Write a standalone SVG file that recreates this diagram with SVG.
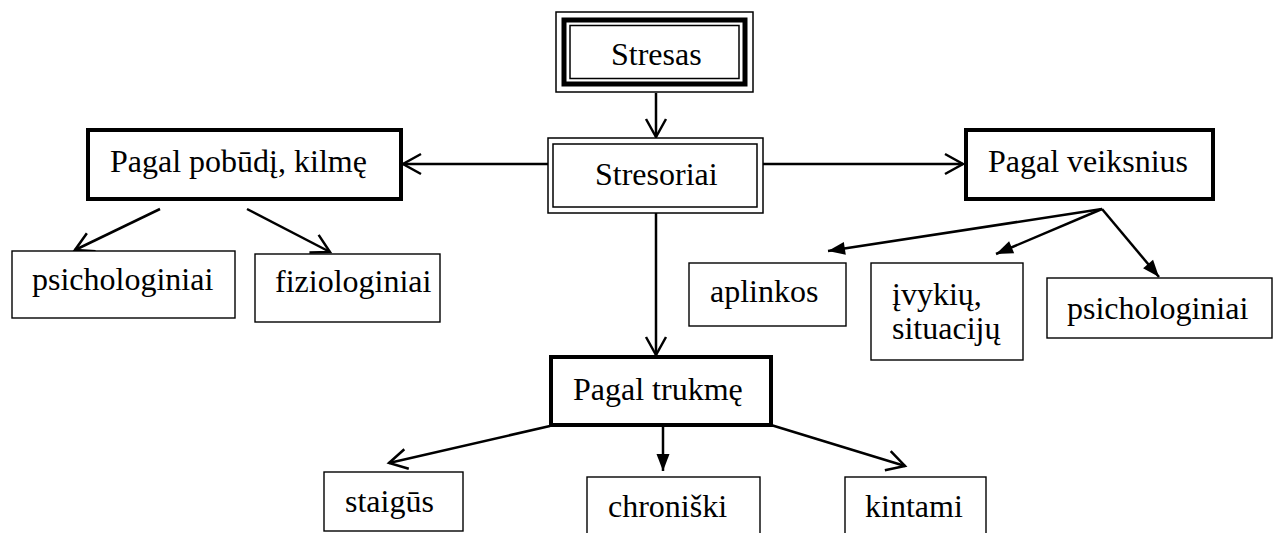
<svg xmlns="http://www.w3.org/2000/svg" width="1278" height="533" viewBox="0 0 1278 533">
<style>
text{font-family:'Liberation Serif',Tinos,'Times New Roman',Times,'DejaVu Serif',serif;font-size:32px;fill:#000}
.thin{fill:#fff;stroke:#000;stroke-width:1.4}
.thick{fill:#fff;stroke:#000;stroke-width:4}
.c{fill:none;stroke:#000;stroke-width:2.5}
.o{marker-end:url(#open)}
.f{marker-end:url(#fill)}
</style>
<defs>
<marker id="open" markerUnits="userSpaceOnUse" markerWidth="24" markerHeight="24" refX="20" refY="12" orient="auto" overflow="visible">
<path d="M2,2 L20,12 L2,22" fill="none" stroke="#000" stroke-width="2.5"/>
</marker>
<marker id="fill" markerUnits="userSpaceOnUse" markerWidth="20" markerHeight="14" refX="17" refY="6.5" orient="auto" overflow="visible">
<path d="M0,0 L17,6.5 L0,13 Z" fill="#000"/>
</marker>
</defs>
<rect width="1278" height="533" fill="#fff"/>
<g id="connectors">
<line class="c o" x1="656" y1="93" x2="656" y2="137"/>
<line class="c o" x1="548" y1="164" x2="403" y2="164"/>
<line class="c o" x1="763" y1="164" x2="963" y2="164"/>
<line class="c o" x1="656" y1="213" x2="656" y2="355"/>
<line class="c o" x1="160" y1="209" x2="75" y2="250"/>
<line class="c o" x1="247" y1="209" x2="330" y2="252"/>
<line class="c f" x1="1102" y1="209" x2="828" y2="251"/>
<line class="c f" x1="1102" y1="209" x2="996" y2="254"/>
<line class="c f" x1="1102" y1="209" x2="1159" y2="277"/>
<line class="c o" x1="550" y1="426" x2="389" y2="463"/>
<line class="c f" x1="663" y1="425" x2="663" y2="471"/>
<line class="c o" x1="771" y1="425" x2="905" y2="466"/>
</g>
<g id="stresas">
<rect x="556" y="12" width="197" height="80" fill="#fff" stroke="#000" stroke-width="1.5"/>
<rect x="564" y="20" width="181" height="64" fill="none" stroke="#000" stroke-width="5"/>
<rect x="570" y="25.5" width="169" height="53" fill="none" stroke="#000" stroke-width="1.5"/>
<text x="611" y="65" font-family="Liberation Serif, serif">Stresas</text>
</g>
<g id="stresoriai">
<rect x="548" y="138" width="215" height="75" fill="#fff" stroke="#000" stroke-width="1.5"/>
<rect x="553" y="144" width="204" height="63" fill="none" stroke="#000" stroke-width="1.5"/>
<text x="595" y="185">Stresoriai</text>
</g>
<g id="pagal-pobudi">
<rect class="thick" x="88" y="130" width="313" height="69"/>
<text x="110" y="172">Pagal pobūdį, kilmę</text>
</g>
<g id="pagal-veiksnius">
<rect class="thick" x="966" y="130" width="247" height="69"/>
<text x="988" y="172">Pagal veiksnius</text>
</g>
<g id="pagal-trukme">
<rect class="thick" x="551" y="357" width="220" height="68"/>
<text x="573" y="400">Pagal trukmę</text>
</g>
<g id="psichologiniai-1">
<rect class="thin" x="12" y="251" width="223" height="67"/>
<text x="32" y="290">psichologiniai</text>
</g>
<g id="fiziologiniai">
<rect class="thin" x="255" y="254" width="185" height="68"/>
<text x="275" y="292">fiziologiniai</text>
</g>
<g id="aplinkos">
<rect class="thin" x="689" y="263" width="157" height="63"/>
<text x="710" y="302">aplinkos</text>
</g>
<g id="ivykiu">
<rect class="thin" x="871" y="263" width="152" height="97"/>
<text x="892" y="305">įvykių,</text>
<text x="892" y="339">situacijų</text>
</g>
<g id="psichologiniai-2">
<rect class="thin" x="1047" y="278" width="225" height="60"/>
<text x="1067" y="319">psichologiniai</text>
</g>
<g id="staigus">
<rect class="thin" x="324" y="472" width="139" height="59"/>
<text x="345" y="512">staigūs</text>
</g>
<g id="chroniski">
<rect class="thin" x="587" y="477" width="173" height="70"/>
<text x="608" y="517">chroniški</text>
</g>
<g id="kintami">
<rect class="thin" x="845" y="477" width="141" height="70"/>
<text x="865" y="517">kintami</text>
</g>
</svg>
